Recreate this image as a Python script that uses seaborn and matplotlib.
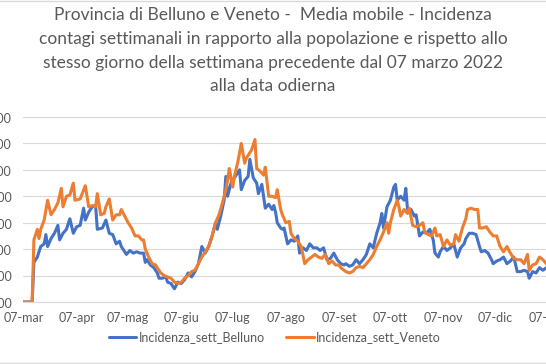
import pandas as pd
import matplotlib
matplotlib.use('Agg')
import matplotlib.pyplot as plt
from matplotlib.lines import Line2D
import seaborn as sns

sns.set_style('white')
plt.rcParams['font.family'] = ['Lato', 'DejaVu Sans']

''' DATI: giorni dal 07 marzo 2022 e incidenza (media mobile) '''

inizio = pd.Timestamp('2022-03-07')

giorni_belluno = [0, 1, 2, 3, 4, 5, 6, 8, 10, 12, 13, 14, 16, 18, 20, 21, 23, 25, 27, 29,
                  31, 33, 35, 36, 38, 40, 42, 43, 46, 48, 50, 52, 54, 56, 57, 60, 62, 64, 66, 68,
                  70, 71, 72, 74, 76, 78, 79, 81, 83, 84, 86, 88, 90, 92, 94, 96, 98, 100, 102, 104,
                  106, 108, 110, 112, 113, 115, 117, 118, 119, 121, 123, 126, 127, 129, 131, 132, 134, 136, 137, 139,
                  141, 143, 145, 146, 147, 148, 150, 151, 152, 154, 156, 158, 160, 161, 163, 165, 167, 169, 171, 173,
                  175, 177, 179, 181, 183, 185, 187, 188, 190, 192, 194, 196, 198, 200, 202, 204, 206, 208, 209, 210,
                  212, 214, 216, 217, 218, 220, 222, 223, 224, 226, 228, 229, 231, 233, 235, 237, 239, 240, 242, 243,
                  245, 247, 249, 251, 253, 255, 257, 258, 260, 262, 264, 266, 267, 269, 271, 273, 274, 276, 278, 280,
                  282, 284, 286, 288, 290, 292, 294, 295, 297, 299, 301, 303, 305]
incidenza_belluno = [0, 0, 0, 0, 0, 0, 0.30, 0.34, 0.42, 0.44, 0.51, 0.42, 0.48, 0.52, 0.58, 0.47, 0.52, 0.55, 0.63, 0.52,
                     0.57, 0.58, 0.71, 0.62, 0.68, 0.72, 0.73, 0.55, 0.56, 0.62, 0.52, 0.51, 0.44, 0.46, 0.42, 0.36, 0.39, 0.37, 0.38, 0.37,
                     0.37, 0.30, 0.32, 0.28, 0.26, 0.22, 0.18, 0.18, 0.19, 0.15, 0.14, 0.10, 0.15, 0.14, 0.17, 0.22, 0.19, 0.23, 0.29, 0.42,
                     0.37, 0.42, 0.50, 0.60, 0.55, 0.65, 0.77, 0.95, 0.80, 0.90, 0.94, 1.00, 0.85, 0.92, 0.95, 1.08, 0.94, 0.90, 0.82, 0.89,
                     0.71, 0.74, 0.70, 0.73, 0.68, 0.60, 0.56, 0.55, 0.56, 0.44, 0.47, 0.46, 0.50, 0.37, 0.41, 0.39, 0.44, 0.41, 0.41, 0.39,
                     0.41, 0.32, 0.33, 0.37, 0.32, 0.29, 0.28, 0.29, 0.27, 0.28, 0.32, 0.29, 0.32, 0.36, 0.44, 0.41, 0.52, 0.60, 0.67, 0.56,
                     0.72, 0.77, 0.87, 0.89, 0.77, 0.80, 0.77, 0.86, 0.70, 0.70, 0.65, 0.66, 0.50, 0.53, 0.52, 0.55, 0.47, 0.37, 0.34, 0.38,
                     0.42, 0.39, 0.41, 0.44, 0.34, 0.41, 0.44, 0.48, 0.52, 0.52, 0.51, 0.42, 0.38, 0.39, 0.37, 0.32, 0.29, 0.31, 0.32, 0.34,
                     0.29, 0.31, 0.34, 0.23, 0.23, 0.24, 0.23, 0.18, 0.23, 0.22, 0.26, 0.24, 0.26]

giorni_veneto = [0, 1, 2, 3, 4, 5, 6, 8, 9, 10, 12, 14, 16, 18, 20, 22, 23, 25, 27, 29,
                 30, 33, 36, 38, 40, 42, 43, 45, 47, 48, 50, 52, 54, 56, 57, 59, 61, 63, 65, 67,
                 69, 70, 71, 73, 75, 77, 79, 80, 82, 84, 86, 88, 90, 92, 94, 96, 98, 100, 102, 104,
                 106, 108, 110, 112, 114, 116, 118, 119, 120, 122, 123, 125, 127, 129, 130, 133, 135, 136, 138, 140,
                 141, 143, 145, 147, 148, 150, 151, 153, 155, 156, 158, 160, 162, 164, 166, 168, 170, 172, 174, 176,
                 178, 180, 182, 184, 185, 187, 188, 190, 192, 194, 196, 198, 200, 202, 204, 206, 208, 210, 212, 213,
                 214, 216, 218, 219, 220, 222, 224, 225, 227, 229, 231, 233, 234, 236, 238, 240, 241, 243, 245, 247,
                 249, 251, 252, 254, 256, 258, 259, 261, 263, 265, 266, 268, 270, 272, 274, 276, 278, 280, 282, 284,
                 286, 288, 290, 292, 294, 295, 297, 299, 301, 303, 305]
incidenza_veneto = [0, 0, 0, 0, 0, 0, 0.47, 0.55, 0.48, 0.55, 0.62, 0.77, 0.66, 0.70, 0.75, 0.86, 0.72, 0.80, 0.81, 0.90,
                    0.77, 0.78, 0.88, 0.72, 0.73, 0.72, 0.82, 0.66, 0.67, 0.72, 0.78, 0.62, 0.66, 0.66, 0.70, 0.65, 0.60, 0.56, 0.50, 0.50,
                    0.47, 0.47, 0.40, 0.34, 0.29, 0.28, 0.24, 0.22, 0.20, 0.19, 0.18, 0.15, 0.14, 0.15, 0.18, 0.20, 0.23, 0.24, 0.29, 0.34,
                    0.38, 0.42, 0.50, 0.60, 0.66, 0.75, 0.85, 0.92, 1.01, 0.87, 0.95, 1.06, 1.20, 1.05, 1.09, 1.15, 1.23, 1.01, 0.99, 0.96,
                    1.02, 0.80, 0.80, 0.79, 0.85, 0.70, 0.66, 0.60, 0.61, 0.52, 0.48, 0.46, 0.42, 0.29, 0.32, 0.34, 0.36, 0.34, 0.33, 0.36,
                    0.29, 0.31, 0.28, 0.28, 0.26, 0.24, 0.23, 0.22, 0.23, 0.26, 0.27, 0.26, 0.29, 0.32, 0.36, 0.42, 0.47, 0.53, 0.60, 0.52,
                    0.60, 0.70, 0.77, 0.72, 0.65, 0.70, 0.67, 0.71, 0.58, 0.57, 0.58, 0.60, 0.53, 0.51, 0.50, 0.56, 0.50, 0.51, 0.42, 0.47,
                    0.43, 0.44, 0.51, 0.46, 0.56, 0.63, 0.70, 0.71, 0.70, 0.70, 0.56, 0.56, 0.57, 0.53, 0.50, 0.50, 0.42, 0.38, 0.42, 0.37,
                    0.33, 0.32, 0.32, 0.29, 0.36, 0.24, 0.28, 0.29, 0.34, 0.32, 0.29]

serie = ['Incidenza_sett_Belluno', 'Incidenza_sett_Veneto']
colori = ['#4472C4', '#ED7D31']

mesi = ['mar', 'apr', 'mag', 'giu', 'lug', 'ago', 'set', 'ott', 'nov', 'dic', 'gen']
valori_asse_y = [0, 0.2, 0.4, 0.6, 0.8, 1.0, 1.2, 1.4]

titolo = ('Provincia di Belluno e Veneto -  Media mobile - Incidenza\n'
          'contagi settimanali in rapporto alla popolazione e rispetto allo\n'
          'stesso giorno della settimana precedente dal 07 marzo 2022\n'
          'alla data odierna')

# tabella lunga per seaborn
df_b = pd.DataFrame({'data': inizio + pd.to_timedelta(giorni_belluno, unit='D'),
                     'valore': incidenza_belluno, 'serie': serie[0]})
df_v = pd.DataFrame({'data': inizio + pd.to_timedelta(giorni_veneto, unit='D'),
                     'valore': incidenza_veneto, 'serie': serie[1]})
df = pd.concat([df_b, df_v], ignore_index=True)

grigio = '#595959'
griglia = '#D9D9D9'

fig = plt.figure(figsize=(5.46, 3.64), dpi=100)
# l'area del grafico esce dai bordi dell'immagine (immagine ritagliata)
ax = fig.add_axes([23 / 546, 62 / 364, 577 / 546, 185 / 364])

sns.lineplot(data=df, x='data', y='valore', hue='serie', palette=colori,
             estimator=None, linewidth=2.2, ax=ax)

ax.set_xlim(inizio - pd.Timedelta(days=0.35), inizio + pd.Timedelta(days=336.3))
ax.set_ylim(0, 1.4)

tick_x = [pd.Timestamp(2022 + (3 + i - 1) // 12, (3 + i - 1) % 12 + 1, 7) for i in range(len(mesi))]
ax.set_xticks(tick_x)
ax.set_xticklabels(['07-' + m for m in mesi])
ax.set_yticks(valori_asse_y)
ax.set_yticklabels([('%.3f' % v).replace('.', ',') for v in valori_asse_y])

ax.set_xlabel('')
ax.set_ylabel('')
ax.grid(axis='y', color=griglia, linewidth=0.8)
ax.grid(axis='x', visible=False)
for lato in ['top', 'right', 'left']:
    ax.spines[lato].set_visible(False)
ax.spines['bottom'].set_color(griglia)
ax.spines['bottom'].set_linewidth(0.8)
ax.tick_params(axis='x', colors=griglia, direction='out', length=3.5, width=0.8,
               labelcolor=grigio, labelsize=9, pad=4)
ax.tick_params(axis='y', length=0, labelcolor=grigio, labelsize=9, pad=8)

# legenda sotto il grafico
handles, labels = ax.get_legend_handles_labels()
ax.get_legend().remove()
fig.legend(handles, labels, loc='center', bbox_to_anchor=(275 / 546, 27 / 364), ncol=2,
           frameon=False, fontsize=9, handlelength=2.2, handletextpad=0.2,
           columnspacing=1.7, labelcolor=grigio)

fig.text(0.5, 1 - 7 / 364, titolo, ha='center', va='top', fontsize=12.5,
         color=grigio, linespacing=1.6)

# bordo del riquadro (sopra e sotto)
fig.add_artist(Line2D([0, 1], [1 - 0.5 / 364, 1 - 0.5 / 364], color=griglia, linewidth=1))
fig.add_artist(Line2D([0, 1], [1.5 / 364, 1.5 / 364], color=griglia, linewidth=1))

fig.savefig('out.png', dpi=100)
